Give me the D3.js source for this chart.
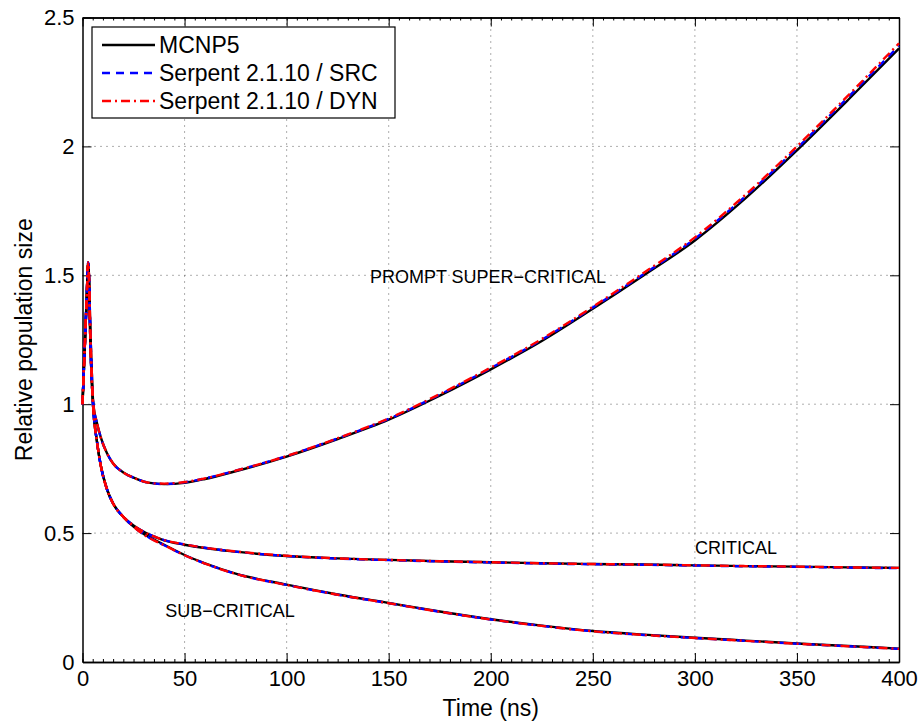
<!DOCTYPE html>
<html>
<head>
<meta charset="utf-8">
<script src="https://cdn.jsdelivr.net/npm/d3@7"></script>
<style>
  body { margin: 0; background: white; }
  text { font-family: "Liberation Sans", Arial, sans-serif; fill: black; }
</style>
</head>
<body>
<div class="chart"></div>
<script>
// time points (ns)
var times = [0, 1, 2, 2.8, 4, 5.3, 7, 9, 12, 15, 20, 25, 30, 35, 40, 50, 60, 75,
  100, 125, 150, 175, 200, 225, 250, 275, 300, 325, 350, 375, 400];

// prompt super-critical
var superMcnp = [1.0, 1.2, 1.4, 1.55, 1.25, 1.0, 0.93, 0.87, 0.81, 0.77, 0.735, 0.715, 0.70, 0.693, 0.69, 0.695, 0.71, 0.74,
  0.797, 0.865, 0.94, 1.033, 1.135, 1.245, 1.37, 1.50, 1.635, 1.80, 1.985, 2.18, 2.38];
var superSrc = [1.0, 1.2, 1.4, 1.55, 1.25, 1.0, 0.93, 0.87, 0.81, 0.77, 0.735, 0.715, 0.70, 0.693, 0.69, 0.697, 0.712, 0.742,
  0.799, 0.867, 0.943, 1.037, 1.14, 1.25, 1.375, 1.505, 1.642, 1.808, 1.993, 2.19, 2.39];
var superDyn = [1.0, 1.2, 1.4, 1.55, 1.25, 1.0, 0.93, 0.87, 0.81, 0.77, 0.735, 0.715, 0.70, 0.693, 0.692, 0.698, 0.712, 0.742,
  0.799, 0.868, 0.945, 1.039, 1.142, 1.253, 1.378, 1.51, 1.647, 1.814, 2.0, 2.197, 2.40];

// critical
var critMcnp = [1.0, 1.2, 1.4, 1.55, 1.2, 0.98, 0.86, 0.76, 0.67, 0.615, 0.563, 0.53, 0.505, 0.486, 0.472, 0.455, 0.442, 0.428,
  0.411, 0.402, 0.396, 0.391, 0.387, 0.383, 0.380, 0.378, 0.375, 0.372, 0.370, 0.367, 0.365];
var critSrc = [1.0, 1.2, 1.4, 1.55, 1.2, 0.98, 0.86, 0.76, 0.67, 0.615, 0.563, 0.53, 0.505, 0.487, 0.473, 0.456, 0.443, 0.428,
  0.411, 0.401, 0.395, 0.390, 0.386, 0.382, 0.379, 0.377, 0.374, 0.371, 0.369, 0.366, 0.364];
var critDyn = [1.0, 1.2, 1.4, 1.55, 1.2, 0.98, 0.86, 0.76, 0.67, 0.615, 0.563, 0.53, 0.505, 0.487, 0.473, 0.456, 0.443, 0.429,
  0.412, 0.402, 0.396, 0.391, 0.387, 0.383, 0.380, 0.378, 0.375, 0.372, 0.370, 0.367, 0.365];

// sub-critical
var subMcnp = [1.0, 1.2, 1.4, 1.55, 1.2, 0.98, 0.86, 0.76, 0.67, 0.615, 0.563, 0.525, 0.497, 0.475, 0.455, 0.415, 0.383, 0.343,
  0.30, 0.262, 0.229, 0.196, 0.166, 0.141, 0.12, 0.106, 0.094, 0.083, 0.072, 0.062, 0.052];
var subSrc = [1.0, 1.2, 1.4, 1.55, 1.2, 0.98, 0.86, 0.76, 0.67, 0.615, 0.563, 0.525, 0.495, 0.473, 0.453, 0.414, 0.382, 0.342,
  0.299, 0.261, 0.228, 0.195, 0.165, 0.14, 0.119, 0.105, 0.093, 0.082, 0.071, 0.061, 0.051];
var subDyn = [1.0, 1.2, 1.4, 1.55, 1.2, 0.98, 0.86, 0.76, 0.67, 0.615, 0.563, 0.525, 0.494, 0.472, 0.453, 0.414, 0.382, 0.342,
  0.299, 0.261, 0.228, 0.195, 0.165, 0.14, 0.119, 0.105, 0.093, 0.082, 0.071, 0.061, 0.051];

var xTicks = [0, 50, 100, 150, 200, 250, 300, 350, 400];
var yTicks = [0, 0.5, 1, 1.5, 2, 2.5];
var legendNames = ['MCNP5', 'Serpent 2.1.10 / SRC', 'Serpent 2.1.10 / DYN'];

var codes = [
  { name: legendNames[0], color: 'black', dash: null, sets: [superMcnp, critMcnp, subMcnp] },
  { name: legendNames[1], color: '#0000ff', dash: '8,6', sets: [superSrc, critSrc, subSrc] },
  { name: legendNames[2], color: '#ff0000', dash: '9,4,2,4', sets: [superDyn, critDyn, subDyn] }
];

var W = 921, H = 721;
var pLeft = 82.5, pRight = 899, pTop = 17.5, pBottom = 662;

var x = d3.scaleLinear().domain([0, 400]).range([pLeft, pRight]);
var y = d3.scaleLinear().domain([0, 2.5]).range([pBottom, pTop]);

const svg = d3.select('.chart')
  .append('svg')
    .attr('width', W)
    .attr('height', H)
    .style('background', 'white');

// dotted grid
svg.append('g').selectAll('line')
  .data(xTicks.slice(1, -1))
  .enter().append('line')
    .attr('x1', d => x(d)).attr('x2', d => x(d))
    .attr('y1', pTop).attr('y2', pBottom)
    .attr('stroke', '#333').attr('stroke-width', 0.8)
    .attr('stroke-dasharray', '1,5');
svg.append('g').selectAll('line')
  .data(yTicks.slice(1, -1))
  .enter().append('line')
    .attr('x1', pLeft).attr('x2', pRight)
    .attr('y1', d => y(d)).attr('y2', d => y(d))
    .attr('stroke', '#333').attr('stroke-width', 0.8)
    .attr('stroke-dasharray', '1,5');

// axes: ticks point inward, on all four sides
var fmt = d => String(d);
var minorX = d3.range(0, 401, 5);
svg.append('g').attr('transform', 'translate(0,' + pBottom + ')')
  .call(d3.axisBottom(x).tickValues(minorX).tickSize(-3).tickSizeOuter(0).tickFormat(''));
svg.append('g').attr('transform', 'translate(0,' + pTop + ')')
  .call(d3.axisTop(x).tickValues(minorX).tickSize(-3).tickSizeOuter(0).tickFormat(''));
svg.append('g').attr('transform', 'translate(0,' + pBottom + ')')
  .call(d3.axisBottom(x).tickValues(xTicks).tickSize(-9).tickSizeOuter(0).tickPadding(8).tickFormat(fmt));
svg.append('g').attr('transform', 'translate(0,' + pTop + ')')
  .call(d3.axisTop(x).tickValues(xTicks).tickSize(-9).tickSizeOuter(0).tickFormat(''));
svg.append('g').attr('transform', 'translate(' + pLeft + ',0)')
  .call(d3.axisLeft(y).tickValues(yTicks).tickSize(-9).tickSizeOuter(0).tickPadding(8).tickFormat(fmt));
svg.append('g').attr('transform', 'translate(' + pRight + ',0)')
  .call(d3.axisRight(y).tickValues(yTicks).tickSize(-9).tickSizeOuter(0).tickFormat(''));

svg.selectAll('.domain').attr('stroke', 'black').attr('stroke-width', 1.5);
svg.selectAll('.tick line').attr('stroke', 'black').attr('stroke-width', 1);
svg.selectAll('.tick text').style('font-size', '22px').attr('fill', 'black');

// curves
var line = d3.line()
  .x((d, i) => x(times[i]))
  .y(d => y(d))
  .curve(d3.curveMonotoneX);

codes.forEach(function(c) {
  svg.append('g').selectAll('path')
    .data(c.sets)
    .enter().append('path')
      .attr('d', line)
      .attr('fill', 'none')
      .attr('stroke', c.color)
      .attr('stroke-width', 2.4)
      .attr('stroke-dasharray', c.dash);
});

// case labels
svg.append('text').attr('x', 488).attr('y', 283).attr('text-anchor', 'middle')
  .style('font-size', '18px').text('PROMPT SUPER\u2212CRITICAL');
svg.append('text').attr('x', 736).attr('y', 554).attr('text-anchor', 'middle')
  .style('font-size', '18px').text('CRITICAL');
svg.append('text').attr('x', 230).attr('y', 617).attr('text-anchor', 'middle')
  .style('font-size', '18px').text('SUB\u2212CRITICAL');

// axis titles
svg.append('text').attr('x', x(200)).attr('y', 716).attr('text-anchor', 'middle')
  .style('font-size', '23px').text('Time (ns)');
svg.append('text')
  .attr('transform', 'translate(32,' + (y(1.25)) + ') rotate(-90)')
  .attr('text-anchor', 'middle')
  .style('font-size', '23px').text('Relative population size');

// legend
const legend = svg.append('g');
legend.append('rect')
  .attr('x', 92).attr('y', 27).attr('width', 303).attr('height', 91)
  .attr('fill', 'white').attr('stroke', 'black').attr('stroke-width', 1.2);
const rows = legend.selectAll('g.row')
  .data(codes)
  .enter().append('g')
    .attr('class', 'row')
    .attr('transform', (d, i) => 'translate(0,' + (45 + i * 28) + ')');
rows.append('line')
  .attr('x1', 102).attr('x2', 155)
  .attr('stroke', d => d.color).attr('stroke-width', 2.4)
  .attr('stroke-dasharray', d => d.dash);
rows.append('text')
  .attr('x', 159).attr('y', 8)
  .style('font-size', '23px')
  .text(d => d.name);
</script>
</body>
</html>
